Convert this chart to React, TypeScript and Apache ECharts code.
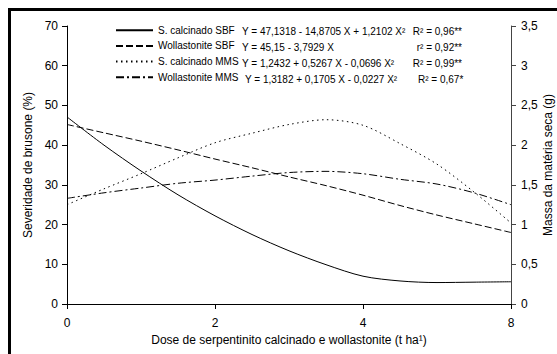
import React, { useEffect, useRef } from "react";
import * as echarts from "echarts";

const doses = [0, 0.5, 1, 1.5, 2, 2.5, 3, 3.5, 4, 5, 6, 7, 8];
const sCalcSBF = [47.1, 40.0, 33.5, 27.5, 22.2, 17.5, 13.4, 9.9, 7.0, 5.8, 5.4, 5.5, 5.6];
const wollSBF = [45.2, 43.1, 41.0, 38.8, 36.5, 34.3, 32.0, 29.8, 27.4, 24.8, 22.4, 20.2, 18.0];
const sCalcMMS = [1.25, 1.45, 1.64, 1.84, 2.03, 2.15, 2.26, 2.32, 2.25, 2.02, 1.76, 1.41, 1.02];
const wollMMS = [1.33, 1.4, 1.46, 1.52, 1.56, 1.61, 1.655, 1.67, 1.64, 1.57, 1.51, 1.4, 1.25];

const seriesNames = ["S. calcinado SBF", "Wollastonite SBF", "S. calcinado MMS", "Wollastonite MMS"];
const equations = [
  "Y = 47,1318 - 14,8705 X + 1,2102 X²",
  "Y = 45,15 - 3,7929 X",
  "Y = 1,2432 + 0,5267 X - 0,0696 X²",
  "Y = 1,3182 + 0,1705 X - 0,0227 X²",
];
const fits = ["R² = 0,96**", "r² = 0,92**", "R² = 0,99**", "R² = 0,67*"];
const rightAxisName = "Massa da matéria seca (g)";

const FONT = "'Liberation Sans', Arial, sans-serif";

export default function App() {
  const ref = useRef<HTMLDivElement>(null);
  useEffect(() => {
    if (!ref.current) return;
    const chart = echarts.init(ref.current, undefined, { renderer: "svg" });
    const rowY = [31.5, 47.5, 63.5, 79.5];
    const eqX = [242, 242, 242, 245];
    const graphics: any[] = [];
    equations.forEach((t, i) => {
      graphics.push({
        type: "text",
        x: eqX[i],
        y: rowY[i],
        style: { text: t, font: `10px ${FONT}`, fill: "#000", align: "left", verticalAlign: "middle", textAlign: "left", textVerticalAlign: "middle" },
      });
    });
    fits.forEach((t, i) => {
      const isLast = i === 3;
      graphics.push({
        type: "text",
        x: isLast ? 418 : 462,
        y: rowY[i],
        style: {
          text: t,
          font: `10px ${FONT}`,
          fill: "#000",
          align: isLast ? "left" : "right",
          textAlign: isLast ? "left" : "right",
          verticalAlign: "middle",
          textVerticalAlign: "middle",
        },
      });
    });
    graphics.push({
      type: "text",
      x: 548,
      y: 165,
      rotation: Math.PI / 2,
      style: {
        text: rightAxisName,
        font: `12px ${FONT}`,
        fill: "#000",
        align: "center",
        textAlign: "center",
        verticalAlign: "middle",
        textVerticalAlign: "middle",
      },
    });
    graphics.push({ type: "line", shape: { x1: 8, y1: 9.5, x2: 557, y2: 9.5 }, style: { stroke: "#000", lineWidth: 3 } });
    graphics.push({ type: "line", shape: { x1: 9.5, y1: 8, x2: 9.5, y2: 354 }, style: { stroke: "#000", lineWidth: 3 } });

    const base = { type: "line", smooth: 0.3, symbol: "none", showSymbol: false };
    chart.setOption({
      animation: false,
      backgroundColor: "#fff",
      textStyle: { fontFamily: FONT },
      grid: { left: 67, right: 46, top: 26, bottom: 50, containLabel: false, outerBoundsMode: "none" },
      legend: {
        orient: "vertical",
        left: 115,
        top: 25,
        itemWidth: 37,
        itemHeight: 13,
        itemGap: 5.3,
        padding: 0,
        itemStyle: { opacity: 0, borderWidth: 0 },
        textStyle: { fontSize: 10, color: "#000", fontFamily: FONT },
        data: seriesNames,
      },
      xAxis: {
        type: "category",
        data: doses.map((d) => String(d)),
        boundaryGap: false,
        name: "Dose de serpentinito calcinado e wollastonite (t ha¹)",
        nameLocation: "middle",
        nameGap: 25,
        nameTextStyle: { fontSize: 12, color: "#000", fontFamily: FONT },
        axisLine: { lineStyle: { color: "#000", width: 1 } },
        axisTick: { show: true, inside: false, length: 5, interval: 3, lineStyle: { color: "#000" } },
        axisLabel: { interval: 3, fontSize: 12, color: "#000", margin: 13, fontFamily: FONT },
        splitLine: { show: false },
      },
      yAxis: [
        {
          type: "value",
          min: 0,
          max: 70,
          interval: 10,
          position: "left",
          name: "Severidade de brusone (%)",
          nameLocation: "middle",
          nameGap: 31,
          nameTextStyle: { fontSize: 12, color: "#000", fontFamily: FONT },
          axisLine: { show: true, lineStyle: { color: "#000", width: 1 } },
          axisTick: { show: true, length: 5, lineStyle: { color: "#000" } },
          axisLabel: { fontSize: 12, color: "#000", margin: 9, fontFamily: FONT },
          splitLine: { show: false },
        },
        {
          type: "value",
          min: 0,
          max: 3.5,
          interval: 0.5,
          position: "right",
          axisLine: { show: true, lineStyle: { color: "#444", width: 1 } },
          axisTick: { show: true, length: 5, lineStyle: { color: "#444" } },
          axisLabel: {
            fontSize: 12,
            color: "#000",
            margin: 10,
            fontFamily: FONT,
            formatter: (v: number) => String(v).replace(".", ","),
          },
          splitLine: { show: false },
        },
      ],
      series: [
        { ...base, name: seriesNames[0], yAxisIndex: 0, data: sCalcSBF, lineStyle: { color: "#000", width: 1, type: "solid" }, itemStyle: { color: "#000" } },
        { ...base, name: seriesNames[1], yAxisIndex: 0, data: wollSBF, lineStyle: { color: "#000", width: 1, type: [7, 3] }, itemStyle: { color: "#000" } },
        { ...base, name: seriesNames[2], yAxisIndex: 1, data: sCalcMMS, lineStyle: { color: "#000", width: 1, type: [1.5, 3.5] }, itemStyle: { color: "#000" } },
        { ...base, name: seriesNames[3], yAxisIndex: 1, data: wollMMS, lineStyle: { color: "#000", width: 1, type: [8, 3, 2, 3] }, itemStyle: { color: "#000" } },
      ],
      graphic: graphics,
    });
    return () => chart.dispose();
  }, []);
  return (
    <div
      ref={ref}
      style={{ position: "absolute", left: 0, top: 0, width: 557, height: 354, background: "#fff" }}
    />
  );
}
